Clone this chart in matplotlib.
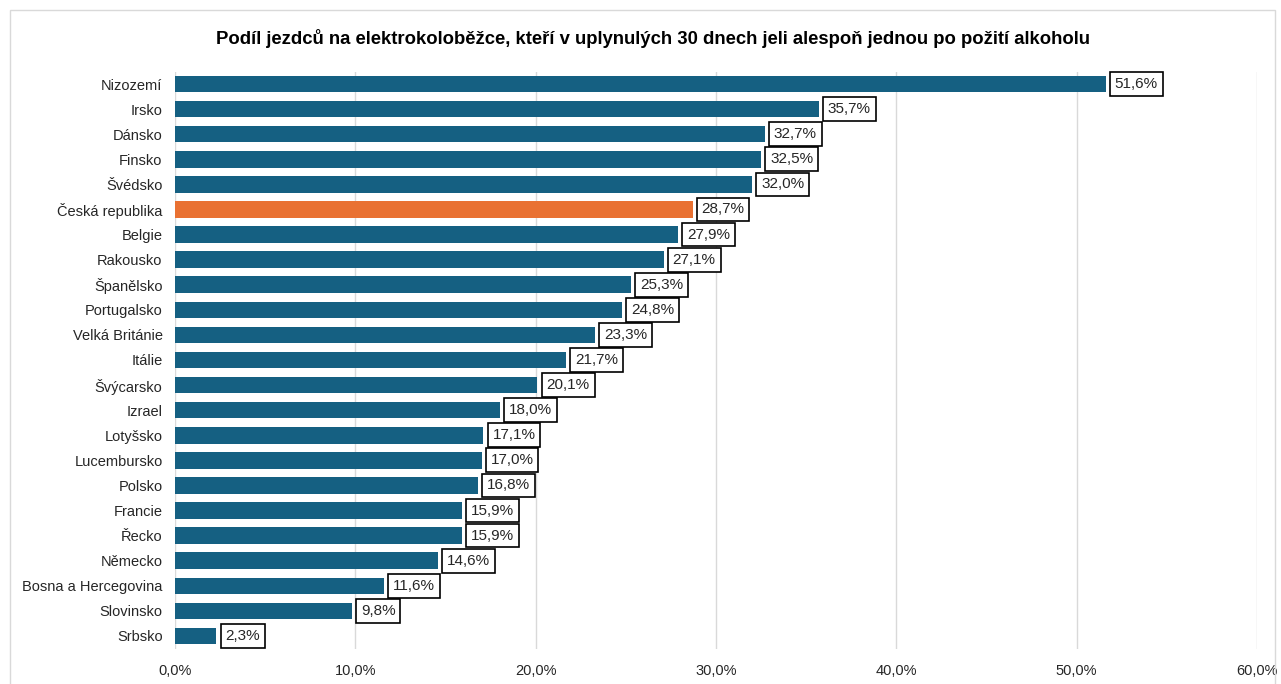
import matplotlib.pyplot as plt
from matplotlib.patches import Rectangle
from matplotlib.ticker import FuncFormatter

countries = ["Nizozemí", "Irsko", "Dánsko", "Finsko", "Švédsko", "Česká republika",
             "Belgie", "Rakousko", "Španělsko", "Portugalsko", "Velká Británie", "Itálie",
             "Švýcarsko", "Izrael", "Lotyšsko", "Lucembursko", "Polsko", "Francie",
             "Řecko", "Německo", "Bosna a Hercegovina", "Slovinsko", "Srbsko"]
values = [51.6, 35.7, 32.7, 32.5, 32.0, 28.7, 27.9, 27.1, 25.3, 24.8, 23.3, 21.7,
          20.1, 18.0, 17.1, 17.0, 16.8, 15.9, 15.9, 14.6, 11.6, 9.8, 2.3]
highlight = "Česká republika"

BLUE = "#156082"
ORANGE = "#E97132"

plt.rcParams['font.family'] = ['Liberation Sans', 'DejaVu Sans']

fig = plt.figure(figsize=(12.81, 6.84), dpi=100)
ax = fig.add_axes([175/1281, 1 - 648.5/684, (1257 - 175)/1281, (648.5 - 71.5)/684])

# light frame around the chart area
fig.patches.append(Rectangle((10/1281, -0.05), 1265/1281, 1 - 10/684 + 0.05,
                             transform=fig.transFigure, fill=False,
                             edgecolor="#d9d9d9", linewidth=1))

ypos = list(range(len(countries)))
colors = [ORANGE if c == highlight else BLUE for c in countries]
ax.barh(ypos, values, height=0.66, color=colors, zorder=3)

for y, v in zip(ypos, values):
    ax.annotate(f"{v:.1f}%".replace(".", ","), xy=(v, y), xytext=(6.5, 0),
                textcoords="offset points", va="center", ha="left", fontsize=11,
                color="#262626",
                bbox=dict(boxstyle="square,pad=0.32", facecolor="white",
                          edgecolor="black", linewidth=1.2), zorder=4)

ax.set_xlim(0, 60)
ax.set_ylim(len(countries) - 0.5, -0.5)
ax.set_yticks(ypos)
ax.set_yticklabels(countries, fontsize=10.5, color="#262626")
ax.set_xticks(range(0, 61, 10))
ax.xaxis.set_major_formatter(FuncFormatter(lambda x, p: f"{x:.1f}%".replace(".", ",")))
ax.tick_params(axis="x", labelsize=10.5, colors="#262626", length=0, pad=11)
ax.tick_params(axis="y", length=0, pad=9)
ax.grid(axis="x", color="#d9d9d9", linewidth=1, zorder=0)
for s in ax.spines.values():
    s.set_visible(False)

fig.text(0.51, 1 - 38/684, "Podíl jezdců na elektrokoloběžce, kteří v uplynulých 30 dnech jeli alespoň jednou po požití alkoholu",
         ha="center", va="center", fontsize=13.3, fontweight="bold", color="black")

fig.savefig("out.png", dpi=100)
